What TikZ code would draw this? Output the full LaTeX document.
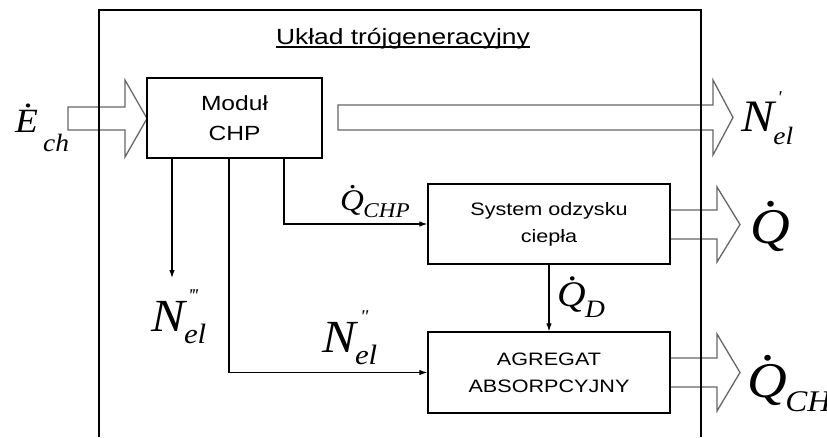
\documentclass[tikz,border=0pt]{standalone}
\usepackage{fontspec}
\setmainfont{Liberation Sans}[FakeStretch=1.2]
\newfontfamily\tnr{Liberation Serif}[FakeStretch=1.1]
\usetikzlibrary{arrows.meta,calc}
\newcommand\dotacc[2][0.15em]{\setbox0\hbox{#2}\rlap{\hbox to\wd0{\hss\kern#1\raisebox{\dimexpr\ht0+0.06em\relax}{.}\hss}}\box0}
\newcommand\fs[1]{\fontsize{#1}{#1}\selectfont}
\newcommand\barrow[6]{\draw[barrowst] ({#1},{#4-#5}) -- ({#2},{#4-#5}) -- ({#2},{#4-#6}) -- ({#3},{#4}) -- ({#2},{#4+#6}) -- ({#2},{#4+#5}) -- ({#1},{#4+#5}) -- cycle;}
\tikzset{
  box/.style={draw, line width=1.3pt, inner sep=0pt, align=center},
  conn/.style={line width=1.1pt, -{Latex[length=8pt,width=5.5pt]}},
  barrowst/.style={draw=black!60, line width=1.3pt, line join=miter},
  frame/.style={line width=1.5pt},
  lbl/.style={inner sep=0pt, font=\tnr\itshape}
}
\begin{document}
\begin{tikzpicture}[x=1pt,y=-1pt]
\useasboundingbox (0,0) rectangle (827,437);
\fill[white] (0,0) rectangle (827,437);
% block arrows
\barrow{68}{125}{147}{118.5}{11.5}{38.5}
\barrow{338}{713}{733}{117.5}{12.5}{37.5}
\barrow{670}{717}{740}{224.5}{14.5}{37.5}
\barrow{670}{717}{740}{372.5}{14.5}{38.5}
% frame
\draw[frame] (99,437) -- (99,10) -- (701,10) -- (701,437);
% title
\node[inner sep=0pt, anchor=base] (title) at (403,44) {\fs{22}Układ trójgeneracyjny};
\draw[line width=1.2pt] ($(title.base west)+(0,3)$) -- ($(title.base east)+(0,3)$);
% boxes
\node[box, minimum width=175pt, minimum height=80pt, font=\fontsize{20.5}{30}\selectfont] (chp) at (234.5,118) {Moduł\\CHP};
\node[box, minimum width=242pt, minimum height=80pt, font=\fontsize{18}{27}\selectfont] (sys) at (549,224) {System odzysku\\ciepła};
\node[box, minimum width=242pt, minimum height=81pt, font=\fontsize{18}{27}\selectfont] (agr) at (549,372.5) {AGREGAT\\ABSORPCYJNY};
% connectors
\coordinate (c1) at (172,278);
\coordinate (c2) at (229,0);
\coordinate (c3) at (284,0);
\draw[conn] (chp.south -| c1) -- (c1);
\draw[conn] (chp.south -| c2) |- (agr.west);
\draw[conn] (chp.south -| c3) |- (sys.west);
\draw[conn] (sys.south) -- (agr.north);
% labels
\node[lbl, anchor=base west] (ech) at (15,132) {\fs{34}\dotacc{E}\kern5pt\raisebox{-19pt}{\fs{25}ch}};
\node[lbl, anchor=base west] (nel1) at (741,131) {\fs{45}N\kern-0.02em\rlap{\raisebox{28pt}{\fs{18}\kern4pt\textquotesingle}}\raisebox{-13pt}{\fs{25}el}};
\node[lbl, anchor=base west] (nel3) at (151,331) {\fs{46}N\kern-0.02em\rlap{\raisebox{30pt}{\fs{18}\kern4pt\textquotesingle\kern-1pt\textquotesingle\kern-1pt\textquotesingle}}\raisebox{-12pt}{\fs{28}el}};
\node[lbl, anchor=base west] (nel2) at (322,352) {\fs{46}N\kern-0.02em\rlap{\raisebox{30pt}{\fs{18}\kern5pt\textquotedbl}}\raisebox{-12pt}{\fs{28}el}};
\node[lbl, anchor=base west] (qchp) at (340,210) {\fs{30}\dotacc[0.1em]{Q}\kern-0.02em\raisebox{-7pt}{\fs{21}CHP}};
\node[lbl, anchor=base west] (qd) at (557,306) {\fs{36}\dotacc[0.1em]{Q}\kern-0.02em\raisebox{-11pt}{\fs{25}D}};
\node[lbl, anchor=base west] (q) at (750,243) {\fs{50}\dotacc[0.1em]{Q}};
\node[lbl, anchor=base west] (qch) at (747,397) {\fs{50}\dotacc[0.1em]{Q}\kern-0.03em\raisebox{-14pt}{\fs{30}CH}};
\end{tikzpicture}
\end{document}
